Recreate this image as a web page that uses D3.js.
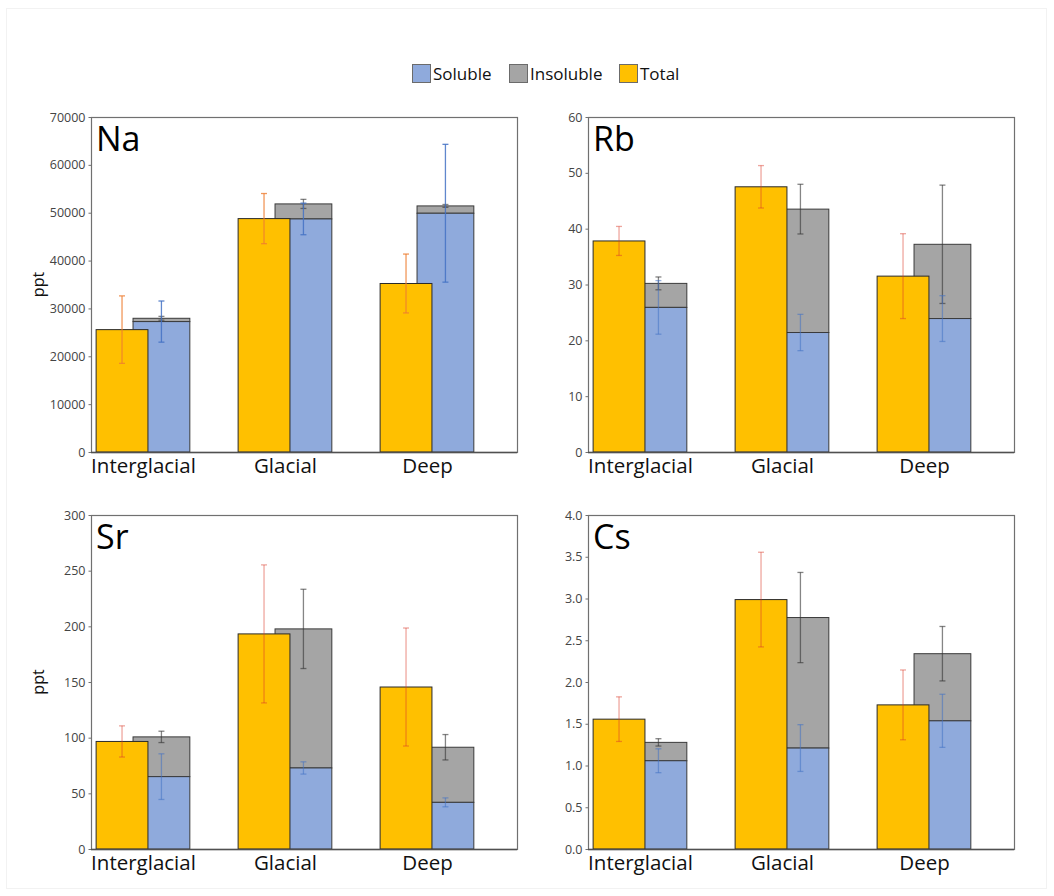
<!DOCTYPE html>
<html>
<head>
<meta charset="utf-8">
<script src="https://cdn.jsdelivr.net/npm/d3@7"></script>
<style>
  html, body { margin: 0; padding: 0; background: #fff; }
  svg { display: block; }
  text { font-family: "Open Sans", "Noto Sans", sans-serif; }
</style>
</head>
<body>
<svg id="chart" width="1054" height="896"></svg>
<script>
// Sample groups shared by all four panels
const categories = ["Interglacial", "Glacial", "Deep"];
const seriesNames = ["Soluble", "Insoluble", "Total"];

// Na (ppt)
const naTotal = [25570, 48770, 35210];
const naTotalErr = [7050, 5240, 6150];
const naSoluble = [27250, 48700, 49890];
const naSolubleErr = [4300, 3300, 14400];
const naInsoluble = [690, 3140, 1530];
const naInsolubleErr = [400, 950, 300];
const naTicks = [0, 10000, 20000, 30000, 40000, 50000, 60000, 70000];

// Rb (ppt)
const rbTotal = [37.8, 47.5, 31.5];
const rbTotalErr = [2.6, 3.8, 7.6];
const rbSoluble = [25.9, 21.4, 23.9];
const rbSolubleErr = [4.8, 3.25, 4.1];
const rbInsoluble = [4.3, 22.1, 13.3];
const rbInsolubleErr = [1.15, 4.45, 10.6];
const rbTicks = [0, 10, 20, 30, 40, 50, 60];

// Sr (ppt)
const srTotal = [96.6, 193.2, 145.5];
const srTotalErr = [14, 62, 53];
const srSoluble = [65.0, 72.8, 41.9];
const srSolubleErr = [20.5, 5.5, 4];
const srInsoluble = [35.7, 124.9, 49.5];
const srInsolubleErr = [5.1, 35.6, 11.4];
const srTicks = [0, 50, 100, 150, 200, 250, 300];

// Cs (ppt)
const csTotal = [1.555, 2.987, 1.726];
const csTotalErr = [0.267, 0.567, 0.418];
const csSoluble = [1.057, 1.209, 1.535];
const csSolubleErr = [0.143, 0.28, 0.318];
const csInsoluble = [0.22, 1.563, 0.804];
const csInsolubleErr = [0.044, 0.54, 0.326];
const csTicks = [0, 0.5, 1.0, 1.5, 2.0, 2.5, 3.0, 3.5, 4.0];

const colors = { Soluble: "#8FAADC", Insoluble: "#A5A5A5", Total: "#FFC000" };

const panels = [
  { name: "Na", total: naTotal, totalErr: naTotalErr, sol: naSoluble, solErr: naSolubleErr,
    ins: naInsoluble, insErr: naInsolubleErr, ticks: naTicks, fmt: d => d3.format("d")(d),
    x0: 91, x1: 517, y0: 117, y1: 452, ppt: true,
    totalErrColor: "#ED7D31", totalErrOpacity: 0.8, solErrColor: "#4472C4", solErrOpacity: 0.85 },
  { name: "Rb", total: rbTotal, totalErr: rbTotalErr, sol: rbSoluble, solErr: rbSolubleErr,
    ins: rbInsoluble, insErr: rbInsolubleErr, ticks: rbTicks, fmt: d => d3.format("d")(d),
    x0: 588, x1: 1014, y0: 117, y1: 452, ppt: false,
    totalErrColor: "#D93A2B", totalErrOpacity: 0.45, solErrColor: "#4472C4", solErrOpacity: 0.55 },
  { name: "Sr", total: srTotal, totalErr: srTotalErr, sol: srSoluble, solErr: srSolubleErr,
    ins: srInsoluble, insErr: srInsolubleErr, ticks: srTicks, fmt: d => d3.format("d")(d),
    x0: 91, x1: 517, y0: 515, y1: 849, ppt: true,
    totalErrColor: "#D93A2B", totalErrOpacity: 0.45, solErrColor: "#4472C4", solErrOpacity: 0.55 },
  { name: "Cs", total: csTotal, totalErr: csTotalErr, sol: csSoluble, solErr: csSolubleErr,
    ins: csInsoluble, insErr: csInsolubleErr, ticks: csTicks, fmt: d => d3.format(".1f")(d),
    x0: 588, x1: 1014, y0: 515, y1: 849, ppt: false,
    totalErrColor: "#D93A2B", totalErrOpacity: 0.45, solErrColor: "#4472C4", solErrOpacity: 0.55 }
];

const svg = d3.select("#chart");

// faint outer frame
svg.append("rect")
  .attr("x", 6.5).attr("y", 8.5).attr("width", 1040).attr("height", 880)
  .attr("fill", "none").attr("stroke", "#f2f2f2");

// legend
const legend = svg.append("g");
const legendItems = [
  { key: "Soluble", x: 412 },
  { key: "Insoluble", x: 509 },
  { key: "Total", x: 619 }
];
legendItems.forEach(it => {
  legend.append("rect")
    .attr("x", it.x + 0.5).attr("y", 64.5).attr("width", 18).attr("height", 18)
    .attr("fill", colors[it.key]).attr("stroke", "#6b6b6b").attr("stroke-width", 1);
  legend.append("text")
    .attr("x", it.x + 21).attr("y", 79.5)
    .attr("font-size", 17).attr("fill", "#111")
    .text(it.key);
});

// group layout inside each category slot (in category units)
const totalSpan = [-0.33, 0.035];
const stackSpan = [-0.07, 0.33];
const errCenterTotal = (totalSpan[0] + totalSpan[1]) / 2;
const errCenterStack = (stackSpan[0] + stackSpan[1]) / 2;

panels.forEach(p => {
  const x = d3.scaleLinear().domain([-0.366, 2.634]).range([p.x0, p.x1]);
  const yMax = p.ticks[p.ticks.length - 1];
  const y = d3.scaleLinear().domain([0, yMax]).range([p.y1, p.y0]);
  const g = svg.append("g");

  // frame
  g.append("rect")
    .attr("x", p.x0 + 0.5).attr("y", p.y0 + 0.5)
    .attr("width", p.x1 - p.x0).attr("height", p.y1 - p.y0)
    .attr("fill", "none").attr("stroke", "#707070").attr("stroke-width", 1.2);

  // stacked soluble + insoluble bars
  categories.forEach((c, i) => {
    const xl = x(i + stackSpan[0]), xr = x(i + stackSpan[1]);
    const sTop = y(p.sol[i]);
    const iTop = y(p.sol[i] + p.ins[i]);
    g.append("rect")
      .attr("x", xl).attr("y", iTop).attr("width", xr - xl).attr("height", sTop - iTop)
      .attr("fill", colors.Insoluble).attr("stroke", "#3a3a3a").attr("stroke-width", 1);
    g.append("rect")
      .attr("x", xl).attr("y", sTop).attr("width", xr - xl).attr("height", y(0) - sTop)
      .attr("fill", colors.Soluble).attr("stroke", "#3a3a3a").attr("stroke-width", 1);
  });

  // total bars drawn over the stacks
  categories.forEach((c, i) => {
    const xl = x(i + totalSpan[0]), xr = x(i + totalSpan[1]);
    const t = y(p.total[i]);
    g.append("rect")
      .attr("x", xl).attr("y", t).attr("width", xr - xl).attr("height", y(0) - t)
      .attr("fill", colors.Total).attr("stroke", "#2a2a2a").attr("stroke-width", 1);
  });

  // error bars
  function errBar(cx, mean, err, color, opacity) {
    const xc = x(cx);
    const yTop = y(mean + err), yBot = y(mean - err);
    const e = g.append("g").attr("stroke", color).attr("stroke-opacity", opacity).attr("stroke-width", 1.3);
    e.append("line").attr("x1", xc).attr("x2", xc).attr("y1", yTop).attr("y2", yBot);
    e.append("line").attr("x1", xc - 3).attr("x2", xc + 3).attr("y1", yTop).attr("y2", yTop);
    e.append("line").attr("x1", xc - 3).attr("x2", xc + 3).attr("y1", yBot).attr("y2", yBot);
  }
  categories.forEach((c, i) => {
    errBar(i + errCenterTotal, p.total[i], p.totalErr[i], p.totalErrColor, p.totalErrOpacity);
    errBar(i + errCenterStack, p.sol[i] + p.ins[i], p.insErr[i], "#333333", 0.6);
    errBar(i + errCenterStack, p.sol[i], p.solErr[i], p.solErrColor, p.solErrOpacity);
  });

  // y axis
  const yAxis = d3.axisLeft(y).tickValues(p.ticks).tickFormat(p.fmt).tickSize(3).tickPadding(3);
  const ya = g.append("g").attr("transform", `translate(${p.x0 + 0.5},0)`).call(yAxis);
  ya.select(".domain").remove();
  ya.selectAll(".tick line").attr("stroke", "#707070");
  ya.selectAll(".tick text").attr("font-size", 12.5).attr("fill", "#444")
    .attr("font-family", "'Open Sans', sans-serif");

  // x axis line and category labels
  const xAxis = d3.axisBottom(x).tickValues([0, 1, 2]).tickFormat(i => categories[i]).tickSize(0).tickPadding(6);
  const xa = g.append("g").attr("transform", `translate(0,${p.y1 + 0.5})`).call(xAxis);
  xa.select(".domain").attr("stroke", "#505050").attr("stroke-width", 1.5)
    .attr("d", `M${p.x0},0H${p.x1}`);
  xa.selectAll(".tick text").attr("font-size", 20.5).attr("fill", "#111")
    .attr("font-family", "'Open Sans', sans-serif");

  // element label
  g.append("text")
    .attr("x", p.x0 + 5).attr("y", p.y0 + 34)
    .attr("font-size", 34).attr("fill", "#000")
    .text(p.name);

  if (p.ppt) {
    g.append("text")
      .attr("transform", `translate(44,${(p.y0 + p.y1) / 2}) rotate(-90)`)
      .attr("text-anchor", "middle")
      .attr("font-size", 16).attr("fill", "#111")
      .text("ppt");
  }
});
</script>
</body>
</html>
